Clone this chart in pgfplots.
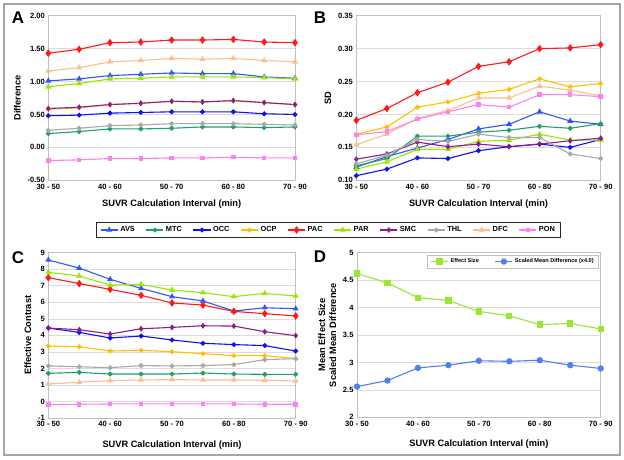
\documentclass[border=0pt]{standalone}
\usepackage{pgfplots}
\pgfplotsset{compat=1.18}
\usepackage{pgfplotstable}
\usepackage{fontspec}
\setmainfont{Liberation Sans}
\definecolor{cAVS}{HTML}{3355F5}
\definecolor{cMTC}{HTML}{20A070}
\definecolor{cOCC}{HTML}{1010F0}
\definecolor{cOCP}{HTML}{FFC000}
\definecolor{cPAC}{HTML}{FF1A1A}
\definecolor{cPAR}{HTML}{99E600}
\definecolor{cSMC}{HTML}{8B1C8B}
\definecolor{cTHL}{HTML}{A8A8A8}
\definecolor{cDFC}{HTML}{FAC08F}
\definecolor{cPON}{HTML}{FF80F0}
\definecolor{cES}{HTML}{99E633}
\definecolor{cSMD}{HTML}{4F81EE}
\definecolor{gridc}{HTML}{DCDCDC}
\definecolor{boxc}{HTML}{C0C0C0}

\pgfplotstableread{
x AVS MTC OCC OCP PAC PAR SMC THL DFC PON
0 1.01 0.21 0.48 0.58 1.43 0.92 0.59 0.26 1.16 -0.20
1 1.04 0.24 0.49 0.60 1.49 0.97 0.61 0.29 1.21 -0.19
2 1.09 0.28 0.52 0.65 1.59 1.04 0.65 0.33 1.30 -0.17
3 1.11 0.28 0.53 0.67 1.60 1.05 0.67 0.34 1.32 -0.17
4 1.13 0.29 0.54 0.70 1.63 1.07 0.70 0.36 1.35 -0.16
5 1.12 0.31 0.54 0.69 1.63 1.07 0.69 0.36 1.34 -0.16
6 1.12 0.31 0.54 0.71 1.64 1.07 0.71 0.36 1.35 -0.15
7 1.07 0.30 0.51 0.68 1.60 1.06 0.68 0.35 1.32 -0.16
8 1.05 0.31 0.50 0.65 1.59 1.04 0.65 0.34 1.30 -0.16
}\tA
\pgfplotstableread{
x AVS MTC OCC OCP PAC PAR SMC THL DFC PON
0 0.120 0.122 0.107 0.170 0.191 0.117 0.132 0.125 0.154 0.169
1 0.136 0.133 0.117 0.181 0.209 0.128 0.140 0.138 0.170 0.174
2 0.149 0.167 0.134 0.211 0.233 0.147 0.158 0.162 0.194 0.193
3 0.162 0.167 0.133 0.219 0.249 0.147 0.151 0.159 0.206 0.204
4 0.178 0.173 0.145 0.232 0.273 0.159 0.155 0.170 0.225 0.215
5 0.185 0.176 0.151 0.238 0.280 0.161 0.151 0.165 0.225 0.211
6 0.204 0.182 0.155 0.254 0.300 0.170 0.155 0.165 0.243 0.230
7 0.190 0.179 0.150 0.242 0.301 0.161 0.160 0.140 0.237 0.230
8 0.185 0.186 0.162 0.247 0.306 0.161 0.164 0.133 0.228 0.227
}\tB
\pgfplotstableread{
x AVS MTC OCC OCP PAC PAR SMC THL DFC PON
0 8.56 1.70 4.44 3.35 7.49 7.81 4.44 2.15 1.06 -0.19
1 8.07 1.76 4.18 3.31 7.13 7.59 4.34 2.10 1.16 -0.17
2 7.39 1.66 3.84 3.05 6.78 7.04 4.08 2.04 1.26 -0.15
3 6.84 1.66 3.96 3.09 6.42 7.08 4.40 2.17 1.30 -0.15
4 6.34 1.66 3.72 3.01 5.96 6.74 4.48 2.15 1.32 -0.15
5 6.08 1.72 3.52 2.89 5.83 6.58 4.58 2.17 1.30 -0.15
6 5.47 1.66 3.44 2.77 5.45 6.34 4.56 2.23 1.30 -0.15
7 5.67 1.64 3.38 2.77 5.31 6.54 4.22 2.53 1.28 -0.17
8 5.61 1.64 3.05 2.59 5.17 6.38 3.98 2.59 1.24 -0.17
}\tC
\pgfplotstableread{
x ES SMD
0 4.62 2.56
1 4.45 2.67
2 4.18 2.90
3 4.13 2.95
4 3.93 3.03
5 3.85 3.02
6 3.69 3.04
7 3.71 2.95
8 3.61 2.89
}\tD

\pgfplotsset{
  panel/.style={scale only axis, clip=false,
    xmin=0, xmax=8, xtick={0,2,4,6,8},
    xticklabels={30 - 50,40 - 60,50 - 70,60 - 80,70 - 90},
    ymajorgrids, grid style={gridc, line width=0.6bp},
    axis line style={boxc, line width=0.7bp},
    major tick length=0pt,
    /pgf/number format/assume math mode=true,
    tick label style={font=\bfseries\fontsize{7.6}{9}\selectfont, text=black},
    label style={font=\bfseries\fontsize{9.3}{11}\selectfont},
    xlabel={SUVR Calculation Interval (min)},
    xlabel style={yshift=-4bp},
    every axis plot/.append style={line width=1.1bp},
  },
  sAVS/.style={color=cAVS, mark=triangle*, mark size=2.4bp},
  sMTC/.style={color=cMTC, mark=*, mark size=1.9bp},
  sOCC/.style={color=cOCC, mark=*, mark size=1.9bp},
  sOCP/.style={color=cOCP, mark=*, mark size=1.9bp},
  sPAC/.style={color=cPAC, mark=diamond*, mark size=2.9bp},
  sPAR/.style={color=cPAR, mark=triangle*, mark size=2.4bp},
  sSMC/.style={color=cSMC, mark=diamond*, mark size=2.1bp},
  sTHL/.style={color=cTHL, mark=*, mark size=1.9bp},
  sDFC/.style={color=cDFC, mark=triangle*, mark size=2.4bp},
  sPON/.style={color=cPON, mark=square*, mark size=1.7bp},
}

\begin{document}
\begin{tikzpicture}[x=1bp,y=1bp]
\fill[white] (0,0) rectangle (624,460);
\draw[black!35, line width=1.2bp] (4,5) rectangle (620,456);

% Panel A
\begin{axis}[panel, at={(48.3bp,279.7bp)}, anchor=south west,
  width=246.7bp, height=164.6bp,
  ymin=-0.5, ymax=2, ytick={-0.5,0,0.5,1,1.5,2},
  yticklabel style={/pgf/number format/.cd, fixed, fixed zerofill, precision=2},
  ylabel={Difference},
  legend style={at={(1.136,-0.302)}, anchor=center, legend columns=10,
    draw=black!85, line width=0.9bp, inner xsep=4bp, inner ysep=2.5bp,
    font=\bfseries\fontsize{7.4}{9}\selectfont,
    /tikz/every even column/.append style={column sep=9bp}},
  legend cell align=left]
\addplot[sAVS] table[x=x,y=AVS]{\tA}; \addlegendentry{AVS}
\addplot[sMTC] table[x=x,y=MTC]{\tA}; \addlegendentry{MTC}
\addplot[sOCC] table[x=x,y=OCC]{\tA}; \addlegendentry{OCC}
\addplot[sOCP] table[x=x,y=OCP]{\tA}; \addlegendentry{OCP}
\addplot[sPAC] table[x=x,y=PAC]{\tA}; \addlegendentry{PAC}
\addplot[sPAR] table[x=x,y=PAR]{\tA}; \addlegendentry{PAR}
\addplot[sSMC] table[x=x,y=SMC]{\tA}; \addlegendentry{SMC}
\addplot[sTHL] table[x=x,y=THL]{\tA}; \addlegendentry{THL}
\addplot[sDFC] table[x=x,y=DFC]{\tA}; \addlegendentry{DFC}
\addplot[sPON] table[x=x,y=PON]{\tA}; \addlegendentry{PON}
\end{axis}

% Panel B
\begin{axis}[panel, at={(356.3bp,279.7bp)}, anchor=south west,
  width=244.4bp, height=164.6bp,
  ymin=0.1, ymax=0.35, ytick={0.1,0.15,0.2,0.25,0.3,0.35},
  yticklabel style={/pgf/number format/.cd, fixed, fixed zerofill, precision=2},
  ylabel={SD}]
\addplot[sAVS] table[x=x,y=AVS]{\tB};
\addplot[sMTC] table[x=x,y=MTC]{\tB};
\addplot[sOCC] table[x=x,y=OCC]{\tB};
\addplot[sOCP] table[x=x,y=OCP]{\tB};
\addplot[sPAC] table[x=x,y=PAC]{\tB};
\addplot[sPAR] table[x=x,y=PAR]{\tB};
\addplot[sSMC] table[x=x,y=SMC]{\tB};
\addplot[sTHL] table[x=x,y=THL]{\tB};
\addplot[sDFC] table[x=x,y=DFC]{\tB};
\addplot[sPON] table[x=x,y=PON]{\tB};
\end{axis}

% Panel C
\begin{axis}[panel, at={(48.3bp,42bp)}, anchor=south west,
  width=247.4bp, height=165.3bp,
  ymin=-1, ymax=9, ytick={-1,0,...,9},
  xlabel style={yshift=-3bp},
  ylabel={Effective Contrast}]
\addplot[sAVS] table[x=x,y=AVS]{\tC};
\addplot[sMTC] table[x=x,y=MTC]{\tC};
\addplot[sOCC] table[x=x,y=OCC]{\tC};
\addplot[sOCP] table[x=x,y=OCP]{\tC};
\addplot[sPAC] table[x=x,y=PAC]{\tC};
\addplot[sPAR] table[x=x,y=PAR]{\tC};
\addplot[sSMC] table[x=x,y=SMC]{\tC};
\addplot[sTHL] table[x=x,y=THL]{\tC};
\addplot[sDFC] table[x=x,y=DFC]{\tC};
\addplot[sPON] table[x=x,y=PON]{\tC};
\end{axis}

% Panel D
\begin{axis}[panel, at={(357bp,42.7bp)}, anchor=south west,
  width=243.7bp, height=164.6bp,
  ymin=2, ymax=5, ytick={2,2.5,3,3.5,4,4.5,5},
  xlabel style={yshift=-3bp},
  ylabel={Mean Effect Size\\Scaled Mean Difference},
  ylabel style={align=center},
  legend style={at={(0.993,0.986)}, anchor=north east, legend columns=2,
    draw=boxc, line width=0.6bp, inner ysep=1.5bp,
    font=\bfseries\fontsize{5.6}{7}\selectfont,
    /tikz/every even column/.append style={column sep=14bp}},
  legend cell align=left]
\addplot[color=cES, mark=square*, mark size=2.6bp] table[x=x,y=ES]{\tD};
\addlegendentry{Effect Size}
\addplot[color=cSMD, mark=*, mark size=2.6bp] table[x=x,y=SMD]{\tD};
\addlegendentry{Scaled Mean Difference (x4.0)}
\end{axis}

\node[font=\bfseries\fontsize{17}{17}\selectfont] at (18,442) {A};
\node[font=\bfseries\fontsize{17}{17}\selectfont] at (320,442) {B};
\node[font=\bfseries\fontsize{17}{17}\selectfont] at (18,202) {C};
\node[font=\bfseries\fontsize{17}{17}\selectfont] at (320,203) {D};
\end{tikzpicture}
\end{document}
